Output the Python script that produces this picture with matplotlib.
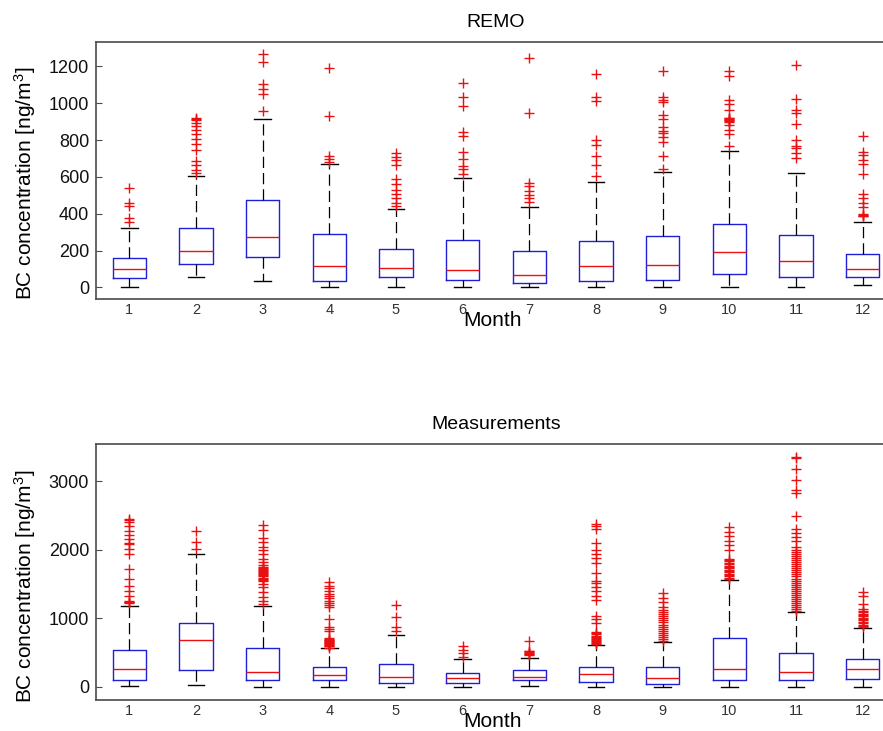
import matplotlib
matplotlib.use('Agg')
import matplotlib.pyplot as plt

plt.rcParams['font.family'] = ['Liberation Sans', 'DejaVu Sans']
plt.rcParams['mathtext.fontset'] = 'custom'
plt.rcParams['mathtext.rm'] = 'Liberation Sans'
plt.rcParams['mathtext.it'] = 'Liberation Sans'

months = list(range(1, 13))
month_labels = [str(m) for m in months]

# ---- REMO (whislo, q1, median, q3, whishi) ----
remo_whislo = [0, 54, 36, 0, 0, 0, 0, 0, 0, 0, 0, 12]
remo_q1     = [49, 126, 166, 36, 58, 40, 25, 34, 40, 72, 54, 58]
remo_med    = [101, 199, 271, 114, 106, 94, 67, 115, 121, 193, 143, 101]
remo_q3     = [160, 323, 473, 289, 209, 256, 199, 251, 278, 343, 284, 179]
remo_whishi = [323, 607, 916, 672, 428, 594, 437, 573, 627, 739, 621, 356]
remo_fliers = [
    [540, 460, 440, 375, 355],
    [922, 915, 907, 890, 875, 857, 831, 808, 781, 748, 685, 663, 636, 621],
    [1269, 1224, 1106, 1079, 1052, 958],
    [1193, 929, 712, 699, 681],
    [727, 708, 690, 663, 586, 560, 531, 506, 483, 459, 441],
    [1110, 1034, 983, 844, 820, 736, 699, 658, 640, 618],
    [1247, 944, 567, 549, 524, 501, 483, 464],
    [1160, 1034, 1012, 799, 772, 712, 667, 607],
    [1173, 1034, 1019, 1006, 934, 916, 871, 848, 838, 817, 790, 712, 640],
    [1175, 1148, 1019, 994, 961, 922, 918, 914, 910, 906, 902, 898, 880, 857, 831, 766],
    [1209, 1021, 965, 944, 889, 799, 766, 754, 727, 705],
    [823, 736, 717, 690, 672, 613, 506, 483, 459, 434, 397, 393, 389, 385],
]

# ---- Measurements ----
meas_whislo = [10, 30, 0, 0, 0, 0, 10, 0, 0, 0, 0, 0]
meas_q1     = [98, 244, 98, 98, 63, 54, 98, 78, 39, 98, 98, 113]
meas_med    = [259, 683, 224, 171, 151, 137, 151, 186, 137, 259, 224, 259]
meas_q3     = [541, 932, 561, 297, 341, 210, 244, 297, 297, 707, 502, 414]
meas_whishi = [1185, 1942, 1185, 561, 756, 405, 429, 610, 649, 1566, 1093, 859]
meas_fliers = [
    [2454, 2430, 2405, 2342, 2273, 2210, 2161, 2097, 2078, 2015, 1932, 1722, 1576,
     1478, 1395, 1332, 1259, 1245, 1235, 1225],
    [2268, 2112, 2015],
    [2356, 2283, 2176, 2112, 2039, 1990, 1932, 1869, 1819, 1771, 1746, 1730, 1715,
     1700, 1685, 1670, 1655, 1640, 1625, 1610, 1595, 1580, 1565, 1551, 1503, 1453,
     1380, 1307, 1259, 1210],
    [1527, 1478, 1440, 1400, 1360, 1330, 1300, 1260, 1220, 1190, 1161, 991, 868, 845,
     820, 712, 700, 690, 680, 670, 660, 650, 640, 630, 620, 610, 600, 590, 575],
    [1200, 1014, 868, 820],
    [600, 537, 488, 439],
    [663, 527, 517, 507, 497, 487, 478, 468],
    [2381, 2345, 2308, 2097, 2000, 1942, 1883, 1810, 1658, 1551, 1512, 1453, 1405,
     1332, 1269, 1039, 991, 927, 795, 780, 765, 750, 735, 720, 705, 690, 675, 660,
     645, 625],
    [1366, 1298, 1234, 1171, 1122, 1090, 1060, 1030, 1000, 970, 940, 910, 880, 850,
     820, 790, 760, 730, 700, 673],
    [2332, 2259, 2195, 2127, 2064, 2000, 1869, 1850, 1830, 1810, 1790, 1770, 1750,
     1730, 1710, 1690, 1670, 1650, 1630, 1610, 1590, 1576],
    [3356, 3332, 3176, 3015, 2868, 2829, 2488, 2308, 2244, 2185, 2127, 2040, 1990,
     1966, 1940, 1910, 1880, 1850, 1820, 1790, 1760, 1730, 1700, 1670, 1640, 1610,
     1580, 1550, 1520, 1490, 1460, 1430, 1400, 1370, 1340, 1310, 1280, 1250, 1220,
     1190, 1160, 1130, 1112],
    [1380, 1332, 1210, 1137, 1110, 1090, 1070, 1050, 1030, 1010, 990, 970, 950, 930,
     910, 890, 868],
]

remo_yticks = [0, 200, 400, 600, 800, 1000, 1200]
meas_yticks = [0, 1000, 2000, 3000]

BLUE = '#1f1fd8'
RED = '#e81010'
SPINE = '#4a4a4a'

W, H = 883, 731
fig = plt.figure(figsize=(W / 100, H / 100), dpi=100)
ax1 = fig.add_axes([96 / W, 1 - 299 / H, 800 / W, 257 / H])
ax2 = fig.add_axes([96 / W, 1 - 700 / H, 800 / W, 256 / H])


def draw(ax, lo, q1, med, q3, hi, fliers, ylim, yticks, title, ylab_y):
    stats = []
    for i, m in enumerate(month_labels):
        stats.append(dict(whislo=lo[i], q1=q1[i], med=med[i], q3=q3[i],
                          whishi=hi[i], fliers=fliers[i], label=m))
    ax.bxp(stats, positions=months, widths=0.5, showfliers=True,
           boxprops=dict(color=BLUE, linewidth=1.0),
           medianprops=dict(color=RED, linewidth=1.0),
           whiskerprops=dict(color='black', linewidth=0.9, linestyle=(0, (9, 4))),
           capprops=dict(color='black', linewidth=1.0),
           flierprops=dict(marker='+', markeredgecolor=RED, markerfacecolor=RED,
                           markersize=6.5, markeredgewidth=1.0, linestyle='none'))
    ax.set_xlim(0.5, 12.5)
    ax.set_ylim(*ylim)
    ax.set_yticks(yticks)
    ax.set_xticks(months)
    ax.set_xticklabels(month_labels)
    ax.tick_params(axis='y', direction='in', length=4, width=0.8, color=SPINE,
                   labelsize=13, pad=5, labelcolor='#111111')
    ax.tick_params(axis='x', length=0, labelsize=10.5, pad=3, labelcolor='#333333')
    for s in ax.spines.values():
        s.set_color(SPINE)
        s.set_linewidth(1.2)
    ax.set_title(title, fontsize=14, pad=11)
    ax.set_xlabel('Month', fontsize=15)
    ax.xaxis.set_label_coords(0.4955, -12.5 / 257)
    ax.set_ylabel('BC concentration [ng/m$^3$]', fontsize=15)
    ax.yaxis.set_label_coords(-58 / 800, ylab_y)


draw(ax1, remo_whislo, remo_q1, remo_med, remo_q3, remo_whishi, remo_fliers,
     (-63, 1332), remo_yticks, 'REMO', 0.451)
draw(ax2, meas_whislo, meas_q1, meas_med, meas_q3, meas_whishi, meas_fliers,
     (-190, 3541), meas_yticks, 'Measurements', 0.445)

fig.savefig('out.png', dpi=100)
